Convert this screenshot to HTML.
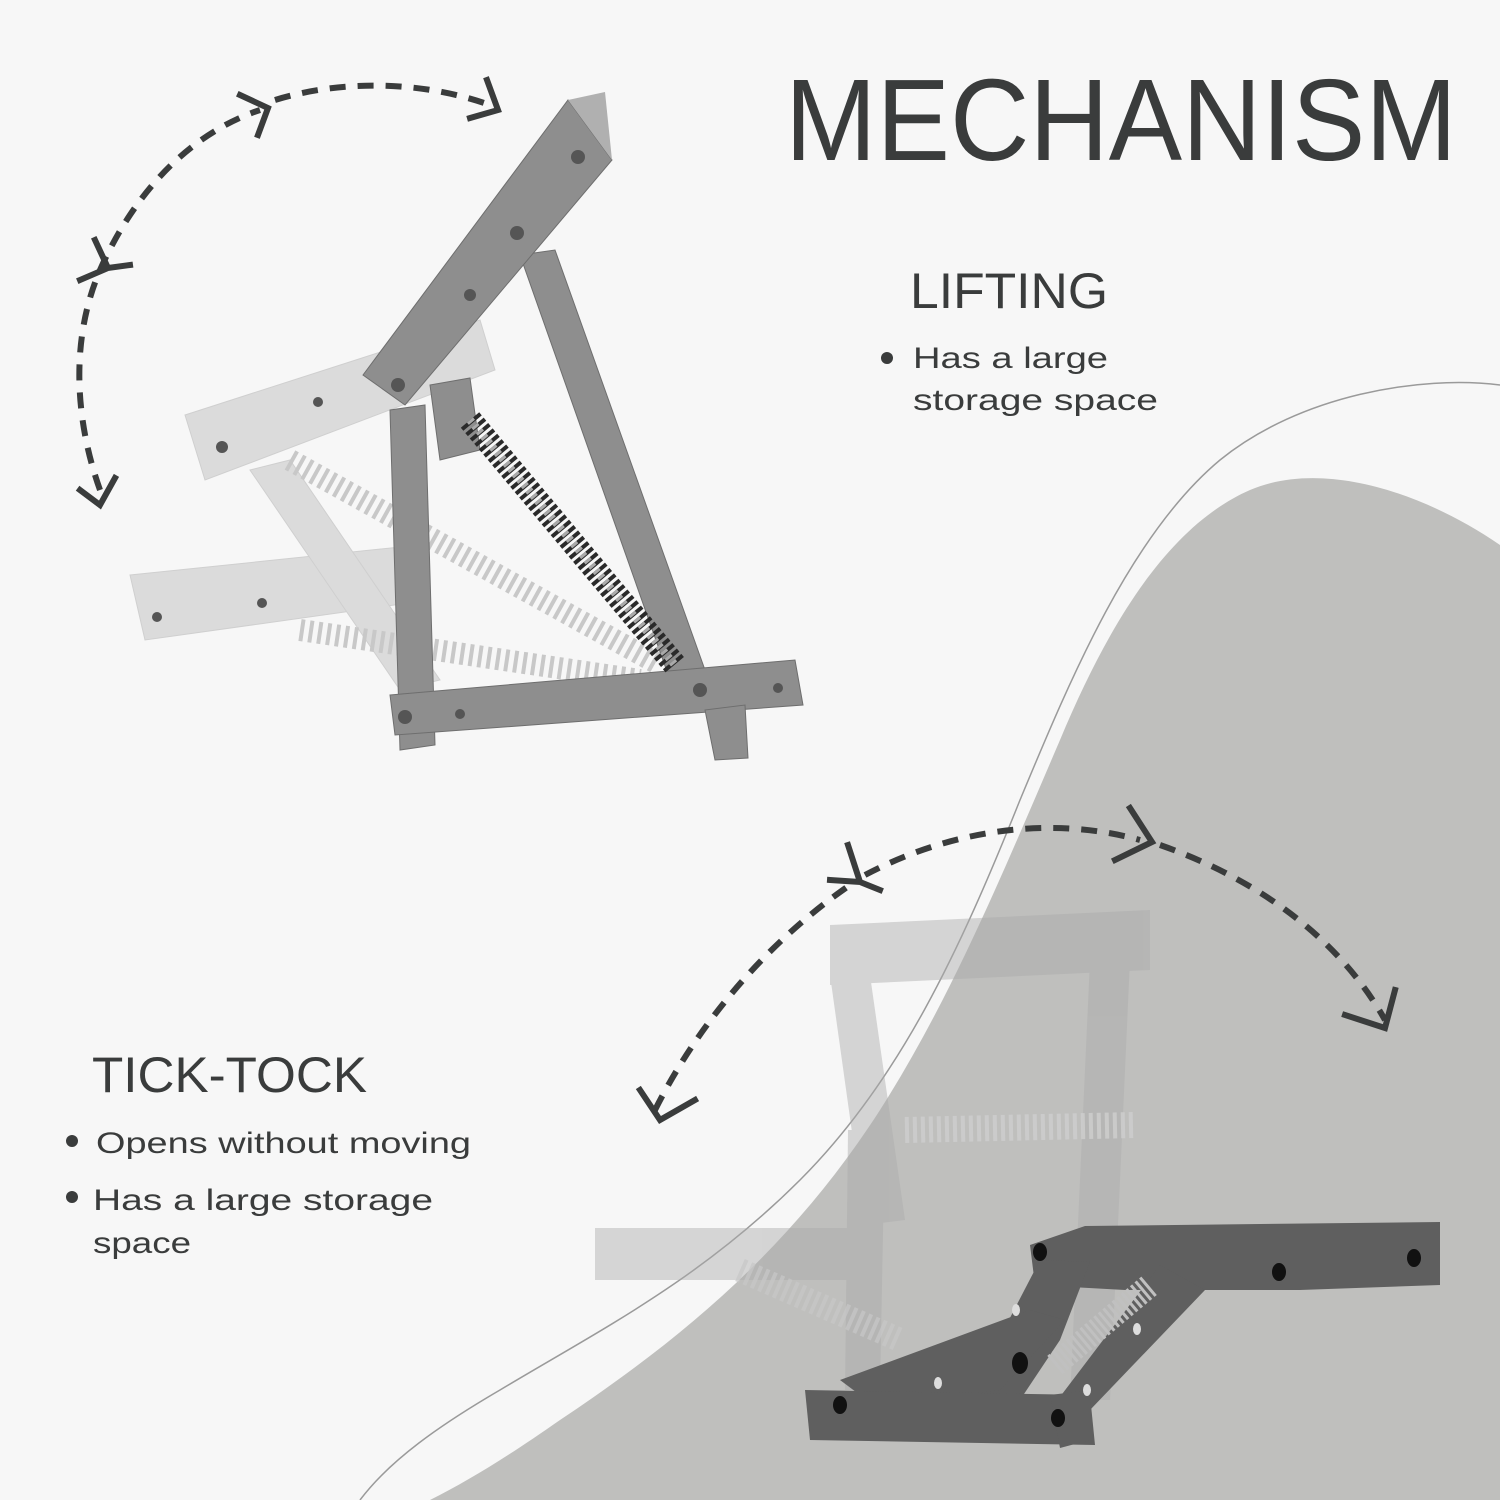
<!DOCTYPE html>
<html><head><meta charset="utf-8"><style>
html,body{margin:0;padding:0;background:#f7f7f7;}
svg{display:block}
text{font-family:"Liberation Sans","DejaVu Sans",sans-serif;fill:#3a3c3c}
</style></head><body>
<svg width="1500" height="1500" viewBox="0 0 1500 1500" xmlns="http://www.w3.org/2000/svg">
<rect width="1500" height="1500" fill="#f7f7f7"/>
<!-- blob -->
<path d="M1500 545 C1420 490 1320 460 1250 490 C1170 525 1110 620 1060 740 C1000 880 950 1000 880 1110 C790 1250 680 1340 560 1420 C510 1455 470 1480 430 1500 L1500 1500 Z" fill="#bfbfbd"/>
<!-- thin curve -->
<path d="M1500 385 C1420 375 1300 395 1220 460 C1130 535 1070 680 1020 800 C960 950 900 1080 800 1180 C700 1280 600 1330 500 1390 C440 1425 390 1460 360 1500" fill="none" stroke="#9a9a9a" stroke-width="1.5"/>

<text x="785" y="160" font-size="116" textLength="672" lengthAdjust="spacingAndGlyphs">MECHANISM</text>
<text x="910" y="308" font-size="50" textLength="198" lengthAdjust="spacingAndGlyphs">LIFTING</text>
<circle cx="887" cy="358" r="6" fill="#3a3c3c"/>
<text x="913" y="368" font-size="30" textLength="195" lengthAdjust="spacingAndGlyphs">Has a large</text>
<text x="913" y="410" font-size="30" textLength="245" lengthAdjust="spacingAndGlyphs">storage space</text>

<text x="92" y="1092" font-size="50" textLength="275" lengthAdjust="spacingAndGlyphs">TICK-TOCK</text>
<circle cx="72" cy="1141" r="6" fill="#3a3c3c"/>
<text x="96" y="1153" font-size="30" textLength="375" lengthAdjust="spacingAndGlyphs">Opens without moving</text>
<circle cx="72" cy="1197" r="6" fill="#3a3c3c"/>
<text x="93" y="1210" font-size="30" textLength="340" lengthAdjust="spacingAndGlyphs">Has a large storage</text>
<text x="93" y="1253" font-size="30" textLength="98" lengthAdjust="spacingAndGlyphs">space</text>

<!-- dashed arcs -->
<g fill="none" stroke="#3a3c3c" stroke-width="6" stroke-dasharray="16 12">
<path d="M100 490 C75 420 70 340 100 270 C140 180 200 130 260 110"/>
<path d="M275 100 C340 80 420 80 490 105"/>
<path d="M655 1110 C700 1020 770 940 850 885"/>
<path d="M865 875 C950 830 1050 815 1140 840"/>
<path d="M1160 845 C1260 880 1340 940 1385 1020"/>
</g>
<g fill="none" stroke="#3a3c3c" stroke-width="6" stroke-linecap="square" stroke-linejoin="miter">
<path d="M80 490 L100 505 L115 478"/>
<path d="M95 240 L108 268 L80 280 M108 268 L130 265"/>
<path d="M240 95 L268 108 L258 135"/>
<path d="M470 118 L498 110 L487 80"/>
<path d="M640 1090 L660 1120 L695 1100"/>
<path d="M848 845 L860 882 L830 880 M860 882 L880 890"/>
<path d="M1130 808 L1152 842 L1115 860"/>
<path d="M1345 1015 L1385 1028 L1395 990"/>
</g>

<!-- LIFTING ghosts -->
<g opacity="0.35" fill="#a9a9a9" stroke="#888" stroke-width="1">
<polygon points="130,575 420,545 430,600 145,640"/>
<polygon points="185,415 480,320 495,370 205,480"/>
<polygon points="250,470 290,460 440,680 400,690"/>
</g>
<g fill="none" stroke="#c8c8c8" stroke-width="22" stroke-dasharray="4 5">
<path d="M290 460 L660 665"/>
<path d="M300 630 L640 680"/>
</g>
<!-- LIFTING main -->
<g fill="#8e8e8e" stroke="#6e6e6e" stroke-width="1">
<polygon points="520,255 555,250 705,670 670,680"/>
<polygon points="390,410 425,405 435,745 400,750"/>
<polygon points="430,385 470,378 480,450 440,460"/>
<polygon points="363,375 568,100 612,160 405,405"/>
<polygon points="390,695 795,660 803,705 395,735"/>
<polygon points="705,710 745,705 748,758 715,760"/>
</g>
<polygon points="568,100 605,92 612,160" fill="#b0b0b0"/>
<path d="M470 420 L675 665" stroke="#2a2a2a" stroke-width="24" stroke-dasharray="4 3"/>
<path d="M470 420 L675 665" stroke="#aaa" stroke-width="8" stroke-dasharray="3 4"/>
<g fill="#555">
<circle cx="578" cy="157" r="7"/><circle cx="517" cy="233" r="7"/><circle cx="470" cy="295" r="6"/>
<circle cx="398" cy="385" r="7"/><circle cx="405" cy="717" r="7"/><circle cx="460" cy="714" r="5"/>
<circle cx="700" cy="690" r="7"/><circle cx="778" cy="688" r="5"/><circle cx="318" cy="402" r="5"/>
<circle cx="222" cy="447" r="6"/><circle cx="262" cy="603" r="5"/><circle cx="157" cy="617" r="5"/>
</g>

<!-- TICK-TOCK ghosts -->
<g opacity="0.45" fill="#aaaaaa">
<polygon points="830,925 1150,910 1150,970 830,985"/>
<polygon points="830,975 870,975 905,1220 865,1225"/>
<polygon points="1090,960 1130,960 1110,1400 1070,1400"/>
<polygon points="848,1130 885,1130 880,1390 845,1390"/>
<polygon points="595,1228 880,1228 880,1280 595,1280"/>
</g>
<path d="M905 1130 L1135 1125" stroke="#cfcfcf" stroke-width="26" stroke-dasharray="4 4" opacity="0.8"/>
<path d="M740 1270 L900 1340" stroke="#c8c8c8" stroke-width="24" stroke-dasharray="4 4" opacity="0.7"/>
<!-- TICK-TOCK main -->
<g fill="#5f5f5f">
<polygon points="1030,1245 1085,1226 1440,1222 1440,1285 1300,1290 1125,1290 1035,1285"/>
<polygon points="1040,1260 1090,1262 1060,1340 1020,1400 970,1395"/>
<polygon points="1030,1310 1065,1320 1000,1390 920,1400 860,1395 840,1380"/>
<polygon points="1160,1265 1205,1290 1090,1410 1050,1410"/>
<polygon points="805,1390 1090,1395 1095,1445 810,1440"/>
<polygon points="1050,1395 1090,1390 1090,1440 1060,1448"/>
</g>
<path d="M1055 1365 L1150 1285" stroke="#c0c0c0" stroke-width="24" stroke-dasharray="3 3"/>
<g fill="#111">
<ellipse cx="1040" cy="1252" rx="7" ry="9"/><ellipse cx="1279" cy="1272" rx="7" ry="9"/>
<ellipse cx="1414" cy="1258" rx="7" ry="9"/><ellipse cx="1020" cy="1363" rx="8" ry="11"/>
<ellipse cx="840" cy="1405" rx="7" ry="9"/><ellipse cx="1058" cy="1418" rx="7" ry="9"/>
</g>
<g fill="#ddd">
<ellipse cx="1016" cy="1310" rx="4" ry="6"/><ellipse cx="938" cy="1383" rx="4" ry="6"/>
<ellipse cx="1137" cy="1329" rx="4" ry="6"/><ellipse cx="1087" cy="1390" rx="4" ry="6"/>
</g>
</svg>
</body></html>
